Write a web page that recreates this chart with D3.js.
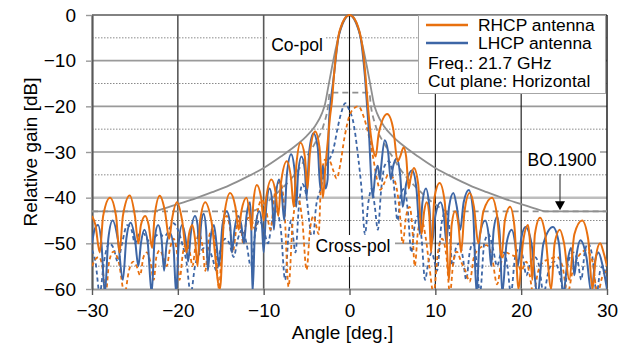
<!DOCTYPE html>
<html lang="en">
<head>
<meta charset="utf-8">
<title>Radiation pattern</title>
<script src="https://cdn.jsdelivr.net/npm/d3@7"></script>
<style>
  body { margin: 0; background: #fff; }
  svg, svg text { font-family: Arial, "Liberation Sans", Helvetica, sans-serif !important; fill: #000; }
</style>
</head>
<body>
<div id="chart"></div>
<script>
// axis ticks
var xTicks = [-30, -20, -10, 0, 10, 20, 30];
var yTicks = [0, -10, -20, -30, -40, -50, -60];
var yMinor = [-5, -15, -25, -35, -45, -55];

var legendLabels = ["RHCP antenna", "LHCP antenna"];
var infoLines = ["Freq.: 21.7 GHz", "Cut plane: Horizontal"];

// BO.1900 templates [angle, dB]
var copolMask = [[-30,-43],[-22.8,-43],[-22,-42.6],[-20,-41.4],[-18,-40.2],[-16,-38.8],[-14,-37.3],[-12,-35.5],[-10,-33.5],[-8,-31],[-6,-28.2],[-5,-26.5],[-4,-24.3],[-3.2,-21.5],[-2.85,-19.5],[-2.5,-16],[-2,-11],[-1.5,-6.5],[-1,-3],[-0.5,-0.8],[0,0],
  [0.5,-0.8],[1,-3],[1.5,-6.5],[2,-11],[2.5,-16],[2.85,-19.5],[3.2,-21.5],[4,-24.3],[5,-26.5],[6,-28.2],[8,-31],[10,-33.5],[12,-35.5],[14,-37.3],[16,-38.8],[18,-40.2],[20,-41.4],[22,-42.6],[22.8,-43],[30,-43]];
var xpolMask = [[-30,-43],[-11.5,-43],[-10,-41.5],[-9,-40],[-8,-38.2],[-7,-36.3],[-6,-34],[-5,-31],[-4,-28],[-3,-24],[-2.5,-20],[-2.3,-17],[0,-17],
  [2.3,-17],[2.5,-20],[3,-24],[4,-28],[5,-31],[6,-34],[7,-36.3],[8,-38.2],[9,-40],[10,-41.5],[11.5,-43],[30,-43]];

// RHCP antenna, co-pol (solid)
var rhcpCo = [[-30,-44],[-29.6,-46],[-29.1,-52],[-28.7,-44],[-27.9,-40],[-27.2,-44],[-26.8,-52],[-26.4,-44],[-25.6,-39.5],[-25.0,-44],[-24.6,-50],[-24.3,-46],[-23.8,-44],[-23.4,-46],[-23.0,-51],[-22.7,-44],[-22.1,-39.6],[-21.5,-43],[-21.0,-49],[-20.7,-45],[-20.1,-41],[-19.5,-45],[-19.0,-52],[-18.7,-48],[-18.3,-46],[-18.0,-49],[-17.7,-55],[-17.4,-45],[-16.8,-41],[-16.1,-45],[-15.1,-60],[-14.6,-44],[-13.9,-39],[-13.3,-42],[-12.9,-47],[-12.6,-43],[-12.0,-40],[-11.6,-44],[-11.4,-47],[-11.2,-41],[-10.8,-37.2],[-10.3,-40],[-10.0,-45],[-9.7,-40],[-9.1,-36],[-8.6,-39],[-8.3,-44],[-8.0,-37],[-7.3,-32],[-6.8,-36],[-6.5,-42],[-6.2,-33],[-5.7,-28],[-5.2,-31],[-4.9,-38],[-4.6,-30],[-4.0,-25.5],[-3.5,-29],[-3.1,-40],[-2.8,-33],[-2.5,-27],[-2.25,-22],[-2.05,-19],[-1.8,-13],[-1.5,-7.5],[-1.3,-4.7],[-1.0,-2.6],[-0.6,-0.9],[0,0],[0.6,-0.9],[1.0,-2.6],[1.3,-4.7],[1.55,-7.5],[1.85,-13],[2.15,-20],[2.4,-25],[2.7,-29],[3.05,-31],[3.4,-26],[4.4,-21.7],[5.1,-25],[5.6,-32],[5.9,-31],[6.3,-29],[6.6,-31],[6.9,-38],[7.1,-36],[7.5,-33.5],[8.0,-37],[8.4,-48],[8.7,-43],[9.0,-41],[9.3,-44],[9.5,-52],[9.9,-40],[10.5,-36.8],[11.1,-41],[11.6,-58],[11.9,-46],[12.3,-43],[12.7,-46],[13.0,-52],[13.4,-43],[14.0,-39],[14.5,-42],[15.0,-50],[15.6,-43],[16.6,-40],[17.2,-44],[17.7,-53],[18.1,-45],[18.7,-42],[19.2,-46],[19.7,-60],[20.2,-50],[20.8,-46],[21.0,-49],[21.3,-58],[21.6,-48],[22.2,-44.4],[22.8,-48],[23.5,-60],[23.9,-50],[24.5,-47],[25.0,-50],[25.6,-58],[26.2,-48],[27.1,-45],[27.8,-49],[28.3,-60],[28.7,-53],[29.2,-50],[29.6,-52],[30,-55]];

// LHCP antenna, co-pol (solid)
var lhcpCo = [[-30,-50],[-29.7,-47],[-29.3,-46],[-28.9,-50],[-28.5,-61],[-28.1,-49],[-27.6,-45],[-27.0,-49],[-26.4,-58],[-26.0,-49],[-25.5,-45.5],[-25.0,-49],[-24.6,-55],[-24.3,-50],[-23.9,-47],[-23.5,-50],[-23.05,-61],[-22.7,-49],[-22.3,-46],[-21.9,-49],[-21.6,-56],[-21.3,-50],[-20.9,-47.8],[-20.5,-51],[-20.2,-61],[-19.9,-50],[-19.5,-46],[-19.1,-49],[-18.8,-54],[-18.5,-48],[-18.0,-44],[-17.7,-46],[-17.5,-52],[-17.3,-46],[-17.0,-43.5],[-16.7,-47],[-16.5,-56],[-16.2,-49],[-15.8,-46],[-15.5,-50],[-15.2,-55],[-14.8,-46],[-14.3,-43],[-13.9,-46],[-13.7,-52],[-13.4,-47],[-13.0,-44],[-12.6,-46],[-12.3,-50],[-12.0,-44],[-11.6,-41],[-11.45,-46],[-11.3,-61],[-11.0,-47],[-10.5,-43],[-10.2,-46],[-10.0,-52],[-9.7,-42],[-9.3,-38],[-9.0,-41],[-8.8,-47],[-8.6,-40],[-8.2,-36],[-7.9,-39],[-7.6,-45],[-7.3,-35],[-6.8,-30.5],[-6.4,-34],[-6.2,-42],[-6.0,-35],[-5.6,-31],[-5.2,-34],[-5.0,-40],[-4.7,-30],[-4.2,-25.9],[-3.7,-29],[-3.4,-38],[-3.1,-33],[-2.8,-38],[-2.55,-36],[-2.4,-24],[-2.2,-19],[-2.0,-16],[-1.8,-13],[-1.5,-7.8],[-1.3,-5],[-1.0,-2.8],[-0.6,-1],[0,0],[0.6,-1],[1.0,-2.8],[1.3,-5],[1.5,-7.8],[1.8,-13.5],[2.05,-20],[2.3,-27],[2.5,-35],[2.7,-40],[3.0,-35],[3.3,-33],[3.55,-36],[3.7,-33],[4.1,-27.4],[4.5,-30],[4.8,-36],[5.1,-33],[5.5,-31.4],[5.9,-35],[6.2,-42],[6.6,-37],[7.3,-34],[7.8,-38],[8.2,-48],[8.5,-41],[8.9,-38],[9.3,-42],[9.6,-50],[10.0,-44],[10.6,-41],[11.0,-44],[11.3,-50],[11.6,-42],[12.1,-39],[12.5,-42],[12.9,-47],[13.3,-41],[13.9,-38.3],[14.4,-43],[14.8,-61],[15.2,-48],[15.8,-45],[16.2,-48],[16.5,-55],[16.8,-47],[17.2,-44.2],[17.5,-48],[17.8,-61],[18.3,-50],[18.9,-47],[19.3,-50],[19.6,-55],[20.0,-49],[20.5,-46.4],[21.2,-50],[21.9,-61],[22.6,-50],[23.7,-46.4],[24.4,-50],[24.9,-61],[25.4,-54],[25.8,-51],[26.0,-53],[26.2,-57],[26.5,-52],[26.9,-49.3],[27.6,-53],[28.2,-61],[28.6,-54],[29.0,-52],[29.5,-55],[30,-60]];

// RHCP antenna, cross-pol (dashed)
var rhcpX = [[-30,-55],[-29.6,-53.5],[-29.2,-53],[-28.8,-55],[-28.4,-61],[-28.0,-54],[-27.5,-51.8],[-26.9,-54],[-26.2,-61],[-25.7,-56],[-25.2,-54],[-24.8,-55],[-24.4,-57],[-24.0,-53],[-23.6,-52],[-23.2,-54],[-22.8,-58],[-22.5,-53],[-22.1,-51.5],[-21.7,-53],[-21.3,-55],[-20.9,-51],[-20.5,-49],[-20.1,-52],[-19.8,-58],[-19.4,-52],[-19.0,-50],[-18.6,-52],[-18.3,-55],[-17.9,-50],[-17.5,-48],[-17.1,-51],[-16.8,-56],[-16.4,-49],[-16.0,-47],[-15.6,-51],[-15.2,-60],[-14.8,-48],[-14.3,-44],[-13.9,-47],[-13.6,-52],[-13.2,-47],[-12.9,-45],[-12.6,-47],[-12.4,-50],[-12.1,-46],[-11.8,-44.4],[-11.4,-45],[-11.0,-47],[-10.6,-42],[-10.2,-40.5],[-9.7,-43],[-9.2,-47],[-8.7,-39],[-8.1,-36.5],[-7.6,-42],[-7.1,-59.5],[-6.6,-45],[-6.0,-40],[-5.5,-45],[-5.0,-55.8],[-4.6,-47],[-4.2,-44],[-3.9,-46],[-3.6,-48],[-3.3,-36],[-2.85,-31.7],[-2.3,-32],[-1.9,-34],[-1.5,-35.8],[-1.1,-33],[-0.6,-27],[0,-22],[0.5,-20.5],[1.03,-20],[1.6,-22],[2.2,-26],[2.8,-31.7],[3.2,-36],[3.6,-38.3],[4.0,-37],[4.5,-35],[5.2,-36],[5.8,-42],[6.2,-50],[6.6,-44],[7.0,-42],[7.3,-46],[7.6,-55],[8.0,-47],[8.4,-45],[8.9,-49],[9.3,-55],[9.8,-61],[10.3,-52],[10.8,-49],[11.3,-53],[11.7,-61],[12.1,-54],[12.5,-51.8],[13.0,-54],[13.5,-56],[14.0,-58.4],[14.5,-53],[15.2,-51],[16.0,-50.4],[16.6,-53],[17.2,-59],[17.7,-54],[18.2,-52],[18.8,-52.5],[19.4,-53],[20.0,-56],[20.6,-54],[21.0,-57],[21.4,-61],[22.0,-56],[22.6,-54],[23.3,-53.5],[24.1,-52.9],[24.8,-55],[25.4,-61],[26.0,-56],[26.8,-52.5],[27.6,-51.5],[28.3,-54],[28.9,-61],[29.5,-57],[30,-56]];

// LHCP antenna, cross-pol (dashed)
var lhcpX = [[-30,-51.5],[-29.6,-54],[-29.1,-61],[-28.6,-54],[-28.0,-50],[-27.5,-51],[-27.0,-54],[-26.5,-50],[-25.9,-46],[-25.4,-47],[-25.0,-50],[-24.5,-48],[-24.0,-47.8],[-23.6,-49],[-23.1,-50],[-22.6,-48.5],[-22.1,-47.8],[-21.7,-48.5],[-21.3,-48],[-20.9,-46.5],[-20.5,-45.6],[-20.0,-47],[-19.5,-50],[-19.0,-54],[-18.5,-61],[-18.0,-55],[-17.4,-52],[-16.9,-51],[-16.5,-51],[-16.0,-53],[-15.5,-56],[-15.0,-51],[-14.5,-49],[-14.0,-50],[-13.5,-53],[-13.0,-49],[-12.5,-47],[-12.0,-50],[-11.5,-55],[-11.0,-48],[-10.5,-45],[-10.0,-47],[-9.5,-50],[-9.0,-45],[-8.5,-43],[-8.0,-47],[-7.5,-58],[-7.1,-48],[-6.8,-45],[-6.6,-48],[-6.3,-52],[-5.9,-42],[-5.5,-37],[-5.0,-40],[-4.7,-45],[-4.3,-50],[-3.9,-42],[-3.4,-38.3],[-2.7,-33],[-1.9,-29.6],[-1.3,-24],[-0.9,-21],[-0.5,-19.3],[-0.1,-20.5],[0.5,-24],[1.0,-31],[1.4,-38],[1.8,-48],[2.2,-41],[2.6,-38],[2.95,-42],[3.3,-47],[3.7,-38],[4.1,-33],[4.6,-32],[5.1,-36],[5.6,-45],[6.0,-39],[6.4,-38],[6.8,-43],[7.2,-52],[7.6,-46],[8.0,-44],[8.4,-49],[8.8,-58],[9.2,-54],[9.6,-52],[9.9,-54],[10.2,-56],[10.7,-46],[11.2,-43],[11.6,-46],[12.0,-55],[12.4,-51],[12.8,-50],[13.2,-53],[13.6,-58],[14.0,-52],[14.4,-50],[14.8,-54],[15.2,-61],[15.7,-50],[16.2,-48],[16.7,-51],[17.2,-55],[17.6,-52.5],[18.0,-52],[18.4,-55],[18.8,-61],[19.3,-53],[19.8,-51],[20.2,-53],[20.6,-57],[21.1,-54],[21.6,-53],[22.1,-55],[22.6,-61],[23.2,-56],[23.8,-54],[24.4,-56],[25.0,-61],[25.5,-54],[26.1,-52],[26.6,-54],[27.0,-58],[27.4,-52],[27.8,-50],[28.3,-53],[28.8,-61],[29.2,-56],[29.5,-55],[30,-58]];

var W = 629, H = 349;
var margin = {top: 15, right: 22, bottom: 60, left: 92};
var width = W - margin.left - margin.right;
var height = H - margin.top - margin.bottom;
var FONT = "Arial, 'Liberation Sans', Helvetica, sans-serif";

var orange = "#E8700F", blue = "#3D66A6", maskGray = "#8f8f8f";

var svg = d3.select("#chart").append("svg")
  .attr("width", W)
  .attr("height", H)
  .attr("font-family", FONT);

var g = svg.append("g")
  .attr("transform", "translate(" + margin.left + "," + margin.top + ")");

var x = d3.scaleLinear().domain([-30, 30]).range([0, width]);
var y = d3.scaleLinear().domain([-60, 0]).range([height, 0]);

// minor dotted grid
g.selectAll(".minor").data(yMinor).enter().append("line")
  .attr("x1", 0).attr("x2", width)
  .attr("y1", function(d) { return y(d); }).attr("y2", function(d) { return y(d); })
  .attr("stroke", "#8a8a8a").attr("stroke-width", 1)
  .attr("stroke-dasharray", "1.5,1.5");

// major horizontal grid
g.selectAll(".major").data(yTicks.slice(1, -1)).enter().append("line")
  .attr("x1", 0).attr("x2", width)
  .attr("y1", function(d) { return y(d); }).attr("y2", function(d) { return y(d); })
  .attr("stroke", function(d) { return d === -40 ? "#bdbdbd" : "#9a9a9a"; })
  .attr("stroke-width", function(d) { return d === -40 ? 2.5 : 1.6; });

// vertical grid
g.selectAll(".vgrid").data(xTicks.slice(1, -1)).enter().append("line")
  .attr("x1", function(d) { return x(d); }).attr("x2", function(d) { return x(d); })
  .attr("y1", 0).attr("y2", height)
  .attr("stroke", function(d) { return d < 0 ? "#595959" : "#111"; })
  .attr("stroke-width", function(d) { return d < 0 ? 1.6 : 1.1; });

// frame
g.append("line").attr("x1", 0).attr("x2", width).attr("y1", 0).attr("y2", 0)
  .attr("stroke", "#595959").attr("stroke-width", 1.6);
g.append("line").attr("x1", width).attr("x2", width).attr("y1", 0).attr("y2", height)
  .attr("stroke", "#111").attr("stroke-width", 1.4);

// axes
var xAxis = g.append("g")
  .attr("transform", "translate(0," + height + ")")
  .call(d3.axisBottom(x).tickValues(xTicks).tickSize(6).tickSizeOuter(0).tickPadding(9))
  .attr("font-family", FONT);
xAxis.select(".domain").attr("stroke", "#9a9a9a").attr("stroke-width", 2);
xAxis.selectAll(".tick line").attr("stroke", "#595959").attr("stroke-width", 1.4);
xAxis.selectAll("text").style("font-size", "19px").attr("fill", "#000");

var yAxis = g.append("g")
  .call(d3.axisLeft(y).tickValues(yTicks).tickSize(6).tickSizeOuter(0).tickPadding(10))
  .attr("font-family", FONT);
yAxis.select(".domain").attr("stroke", "#595959").attr("stroke-width", 2.2);
yAxis.selectAll(".tick line").attr("stroke", "#9a9a9a").attr("stroke-width", 1.4);
yAxis.selectAll("text").style("font-size", "19px").attr("fill", "#000");

// axis titles
svg.append("text")
  .attr("x", margin.left + width / 2 - 7)
  .attr("y", 339)
  .attr("text-anchor", "middle")
  .style("font-size", "19px")
  .text("Angle [deg.]");

svg.append("text")
  .attr("transform", "translate(37," + (margin.top + height / 2) + ") rotate(-90)")
  .attr("text-anchor", "middle")
  .style("font-size", "19px")
  .text("Relative gain [dB]");

// plot clip
g.append("clipPath").attr("id", "plotClip")
  .append("rect").attr("x", 0).attr("y", -2).attr("width", width).attr("height", height + 2);

var line = d3.line()
  .x(function(d) { return x(d[0]); })
  .y(function(d) { return y(d[1]); })
  .curve(d3.curveMonotoneX);

var plot = g.append("g").attr("clip-path", "url(#plotClip)");

// templates
plot.append("path").datum(xpolMask)
  .attr("fill", "none").attr("stroke", maskGray).attr("stroke-width", 1.8)
  .attr("stroke-dasharray", "6,4").attr("d", line);
plot.append("path").datum(copolMask)
  .attr("fill", "none").attr("stroke", maskGray).attr("stroke-width", 1.8).attr("d", line);

// measured patterns
var series = [
  {data: lhcpX, color: blue, dash: "4,3"},
  {data: rhcpX, color: orange, dash: "4,3"},
  {data: lhcpCo, color: blue, dash: null},
  {data: rhcpCo, color: orange, dash: null}
];
series.forEach(function(s) {
  plot.append("path").datum(s.data)
    .attr("fill", "none")
    .attr("stroke", s.color)
    .attr("stroke-width", s.dash ? 1.8 : 2)
    .attr("stroke-dasharray", s.dash)
    .attr("stroke-linejoin", "round")
    .attr("d", line);
});

// annotations with white backing
function label(txt, cx, base, bx, by, bw, bh) {
  g.append("rect").attr("x", bx - margin.left).attr("y", by - margin.top)
    .attr("width", bw).attr("height", bh).attr("fill", "#fff");
  g.append("text").attr("x", cx - margin.left).attr("y", base - margin.top)
    .attr("text-anchor", "middle").style("font-size", "17.5px").text(txt);
}
label("Co-pol", 297, 51, 267, 30, 58, 24);
label("Cross-pol", 353, 252, 310, 235, 85, 22);
label("BO.1900", 562, 166, 522, 147, 78, 25);

// arrow to template floor
g.append("line")
  .attr("x1", 560 - margin.left).attr("x2", 560 - margin.left)
  .attr("y1", 174 - margin.top).attr("y2", y(-43) - 8)
  .attr("stroke", "#444").attr("stroke-width", 1.2);
g.append("path")
  .attr("d", "M" + (555 - margin.left) + "," + (y(-43) - 10) + "L" + (565 - margin.left) + "," + (y(-43) - 10) + "L" + (560 - margin.left) + "," + (y(-43) - 1) + "Z")
  .attr("fill", "#000");

// legend
var lg = svg.append("g");
lg.append("rect").attr("x", 418.5).attr("y", 15.5).attr("width", 187).attr("height", 78)
  .attr("fill", "#fff").attr("stroke", "#a6a6a6").attr("stroke-width", 1);
[orange, blue].forEach(function(c, i) {
  lg.append("line").attr("x1", 426).attr("x2", 468)
    .attr("y1", 25 + i * 18).attr("y2", 25 + i * 18)
    .attr("stroke", c).attr("stroke-width", 2.6);
  lg.append("text").attr("x", 478).attr("y", 31 + i * 18)
    .style("font-size", "17.4px").text(legendLabels[i]);
});
infoLines.forEach(function(t, i) {
  lg.append("text").attr("x", 428).attr("y", 69 + i * 18)
    .style("font-size", "17.4px").text(t);
});
</script>
</body>
</html>
